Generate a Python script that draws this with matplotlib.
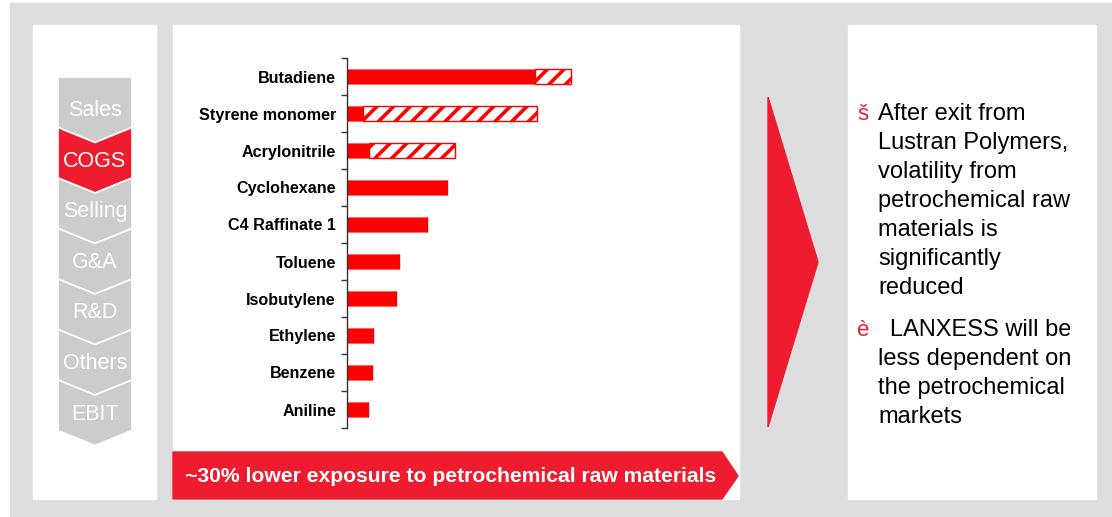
import matplotlib.pyplot as plt
from matplotlib.patches import Polygon, Rectangle

plt.rcParams['font.family'] = ['Liberation Sans', 'DejaVu Sans']
plt.rcParams['hatch.linewidth'] = 2.6

# data
materials = ["Butadiene", "Styrene monomer", "Acrylonitrile", "Cyclohexane",
             "C4 Raffinate 1", "Toluene", "Isobutylene", "Ethylene", "Benzene", "Aniline"]
remaining = [84, 7, 10, 44.5, 35.5, 23, 22, 11.5, 11, 9.5]
lustran = [16, 78, 38, 0, 0, 0, 0, 0, 0, 0]   # hatched part (Lustran exit)
pl_steps = ["Sales", "COGS", "Selling", "G&A", "R&D", "Others", "EBIT"]
banner = "~30% lower exposure to petrochemical raw materials"
bullet1 = ["After exit from", "Lustran Polymers,", "volatility from",
           "petrochemical raw", "materials is", "significantly", "reduced"]
bullet2 = ["LANXESS will be", "less dependent on", "the petrochemical", "markets"]

RED = '#ee1c2e'
GREY_BG = '#dddddd'
GREY_CHEV = '#cccccc'

fig = plt.figure(figsize=(11.12, 5.17), dpi=100)

# background layer in pixel coords
bg = fig.add_axes([0, 0, 1, 1])
bg.set_xlim(0, 1112)
bg.set_ylim(517, 0)
bg.axis('off')
bg.add_patch(Rectangle((10, 3), 1102, 514, color=GREY_BG))
for x0, x1 in [(33, 156), (173, 739), (848, 1096)]:
    bg.add_patch(Rectangle((x0, 25), x1 - x0, 474, color='white'))

# P&L chevrons
cx0, cx1, cm = 58, 132, 95
step, notch = 50.5, 15
for i, name in enumerate(pl_steps):
    t = 77 + step * i
    b = t + step
    if i == 0:
        pts = [(cx0, t), (cx1, t), (cx1, b), (cm, b + notch), (cx0, b)]
        ty = 111
    else:
        pts = [(cx0, t), (cm, t + notch), (cx1, t), (cx1, b), (cm, b + notch), (cx0, b)]
        ty = t + 34
    col = RED if name == "COGS" else GREY_CHEV
    bg.add_patch(Polygon(pts, closed=True, facecolor=col, edgecolor='white', lw=1.2))
    bg.text(cm, ty, name, color='white', fontsize=15.5, ha='center', va='center')

# banner at bottom of the chart panel
bg.add_patch(Polygon([(173, 452), (722, 452), (738, 476), (722, 499), (173, 499)],
                     closed=True, color=RED))
bg.text(451, 477, banner, color='white', fontsize=15.2, fontweight='bold',
        ha='center', va='center')

# big arrow
bg.add_patch(Polygon([(768, 97), (818, 262), (768, 427)], closed=True, color=RED))

# bullet text
bg.text(857, 114, "š", color=RED, fontsize=16, ha='left', va='center')
for k, line in enumerate(bullet1):
    bg.text(878, 114 + 29 * k, line, color='black', fontsize=17, ha='left', va='center')
bg.text(857, 330, "è", color=RED, fontsize=16, ha='left', va='center')
for k, line in enumerate(bullet2):
    x = 890 if k == 0 else 878
    bg.text(x, 330 + 29 * k, line, color='black', fontsize=17, ha='left', va='center')

# bar chart
ax = fig.add_axes([347 / 1112, 89 / 517, 392 / 1112, 370 / 517])
ax.set_facecolor('none')
y = list(range(len(materials)))
ax.barh(y, remaining, height=0.4, color='#ff0000', edgecolor='#ff6666', lw=0.6)
ax.barh(y, lustran, left=remaining, height=0.4, facecolor='white',
        edgecolor='#ff0000', hatch='//', lw=1.0)
ax.set_ylim(len(materials) - 0.5, -0.5)
ax.set_xlim(0, 175)
ax.set_yticks(y)
ax.set_yticklabels(materials, fontsize=11.6, fontweight='bold')
ax.tick_params(axis='y', which='major', length=0, pad=8)
ax.set_yticks([i - 0.5 for i in range(len(materials) + 1)], minor=True)
ax.tick_params(axis='y', which='minor', length=4, width=1, color='#333333')
ax.set_xticks([])
for s in ['top', 'right', 'bottom']:
    ax.spines[s].set_visible(False)
ax.spines['left'].set_color('#333333')
ax.spines['left'].set_linewidth(1)

fig.savefig('out.png', dpi=100)
